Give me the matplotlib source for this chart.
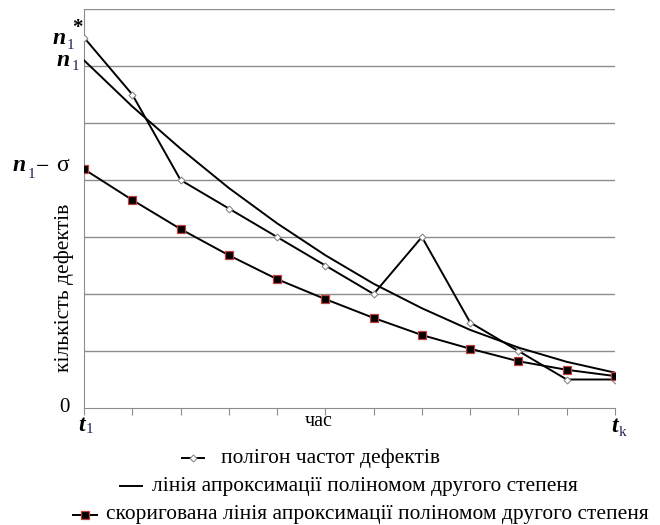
import numpy as np
import matplotlib.pyplot as plt
from matplotlib.lines import Line2D

plt.rcParams['font.family'] = ['Liberation Serif', 'DejaVu Serif']

# time points t1 ... tk
t = np.arange(12)
# polygon of defect frequencies
polygon = [6.5, 5.5, 4.0, 3.5, 3.0, 2.5, 2.0, 3.0, 1.5, 1.0, 0.5, 0.5]
# second degree polynomial approximation
approx = [6.10, 5.29, 4.55, 3.86, 3.24, 2.68, 2.18, 1.75, 1.37, 1.06, 0.81, 0.62]
# corrected approximation line
corrected = [4.19, 3.65, 3.14, 2.68, 2.26, 1.91, 1.58, 1.28, 1.04, 0.82, 0.67, 0.56]

labels = ["полігон частот дефектів",
          "лінія апроксимації поліномом другого степеня",
          "скоригована лінія апроксимації поліномом другого степеня"]

W, H = 660, 525
fig = plt.figure(figsize=(6.6, 5.25), dpi=100)
ax = fig.add_axes([84 / W, 1 - 408 / H, (615 - 84) / W, (408 - 9) / H])


def px(x, y):
    return x / W, 1 - y / H


ax.plot(t, polygon, color='black', lw=1.4, marker='D', ms=3.5,
        mfc='white', mec='#888888', mew=0.8, zorder=3)
ax.plot(t, approx, color='black', lw=1.4, zorder=3)
ax.plot(t, corrected, color='black', lw=1.4, marker='s', ms=5.5,
        mfc='black', mec='#c04040', mew=0.9, zorder=4)

ax.set_xlim(0, 11)
ax.set_ylim(0, 7)
ax.set_yticks(range(1, 8))
ax.yaxis.grid(True, color='#8c8c8c', lw=1.0)
ax.set_axisbelow(True)
ax.set_xticks(t)
ax.tick_params(axis='x', length=5, color='#8c8c8c', labelbottom=False)
ax.tick_params(axis='y', length=0, labelleft=False)
for s in ['top', 'right']:
    ax.spines[s].set_visible(False)
for s in ['left', 'bottom']:
    ax.spines[s].set_color('#8c8c8c')

# y-axis annotations
bi = dict(fontweight='bold', fontstyle='italic', fontsize=17, color='black')
sub = dict(fontsize=11, color='#1c2456')
fig.text(*px(53, 44), 'n', ha='left', va='baseline', **bi)
fig.text(*px(67, 49), '1', ha='left', va='baseline', **sub)
fig.text(*px(72, 33), '*', ha='left', va='baseline', fontsize=15,
         fontweight='bold', color='black')
fig.text(*px(57, 66), 'n', ha='left', va='baseline', **bi)
fig.text(*px(72, 70), '1', ha='left', va='baseline', **sub)
fig.text(*px(13, 171), 'n', ha='left', va='baseline', **bi)
fig.text(*px(28, 178), '1', ha='left', va='baseline', **sub)
fig.text(*px(36, 167), '−', ha='left', va='center', fontsize=17)
fig.text(*px(56, 171), 'σ', ha='left', va='baseline', fontsize=17)
fig.text(*px(64, 408), '0', ha='center', va='center', fontsize=15)

# x-axis annotations
fig.text(*px(78, 431), 't', ha='left', va='baseline', **bi)
fig.text(*px(86, 433), '1', ha='left', va='baseline', **sub)
fig.text(*px(611, 432), 't', ha='left', va='baseline', **bi)
fig.text(*px(619, 436), 'k', ha='left', va='baseline', **sub)
fig.text(*px(319, 421), 'час', ha='center', va='center', fontsize=14.5)

fig.text(*px(64, 288), 'кількість дефектів', rotation=90,
         ha='center', va='center', fontsize=15.5)

# legend
fig.add_artist(Line2D([182 / W, 193 / W, 204 / W], [1 - 458 / H] * 3,
                      color='black', lw=1.4, marker='D', ms=3.5, mfc='white',
                      mec='#888888', mew=0.8, markevery=[1],
                      transform=fig.transFigure))
fig.text(*px(221, 458), labels[0], ha='left', va='center', fontsize=15.4)

fig.add_artist(Line2D([120 / W, 142 / W], [1 - 486 / H] * 2, color='black',
                      lw=1.4, transform=fig.transFigure))
fig.text(*px(152, 486), labels[1], ha='left', va='center', fontsize=15.4)

fig.add_artist(Line2D([73 / W, 85 / W, 97 / W], [1 - 515 / H] * 3,
                      color='black', lw=1.4, marker='s', ms=5.5, mfc='black',
                      mec='#c04040', mew=0.9, markevery=[1],
                      transform=fig.transFigure))
fig.text(*px(106, 515), labels[2], ha='left', va='center', fontsize=15.4)

fig.savefig('out.png', dpi=100)
